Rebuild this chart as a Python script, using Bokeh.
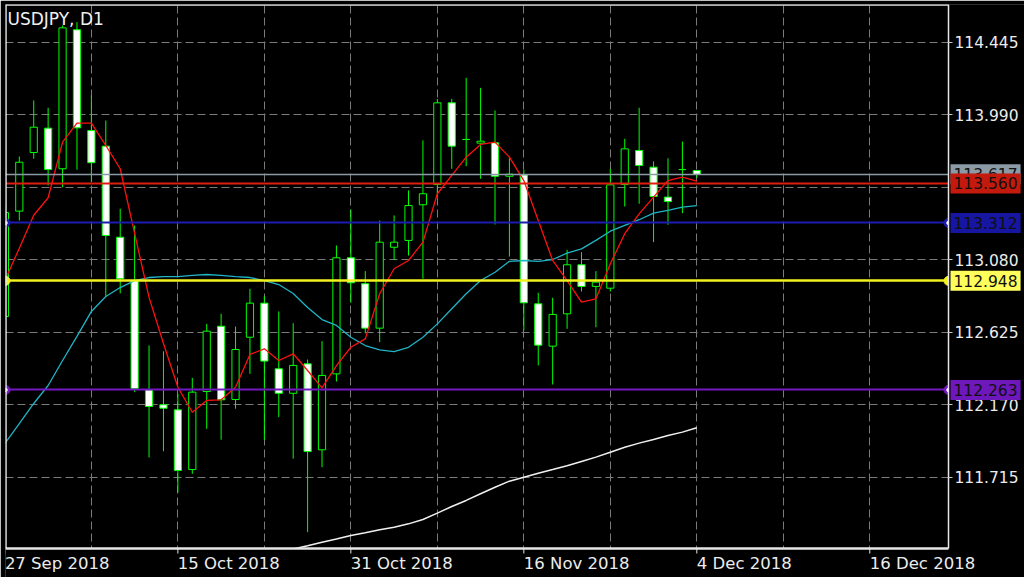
from bokeh.plotting import figure
from bokeh.models import Range1d, FixedTicker, Label, NumeralTickFormatter, LinearAxis
from bokeh.embed import file_html
from bokeh.resources import INLINE

# ---------------- data ----------------
symbol_title = "USDJPY, D1"

date_tick_idx = [0, 12, 24, 36, 48, 60]
date_tick_labels = ["27 Sep 2018", "15 Oct 2018", "31 Oct 2018",
                    "16 Nov 2018", "4 Dec 2018", "16 Dec 2018"]

price_ticks = [114.445, 113.990, 113.080, 112.625, 112.170, 111.715]
price_grid = [114.445, 113.990, 113.535, 113.080, 112.625, 112.170, 111.715]

open_ = [112.724, 113.386, 113.754, 113.907, 113.652, 114.525, 113.892, 113.794, 113.222, 112.950,
         112.264, 112.170, 112.138, 111.763, 112.253, 112.663, 112.203, 112.594, 112.808, 112.396,
         112.242, 112.427, 111.887, 112.364, 113.093, 112.930, 112.651, 113.159, 113.202, 113.426,
         113.553, 114.066, 113.836, 113.813, 113.815, 113.605, 113.614, 112.804, 112.538, 112.741,
         113.049, 112.913, 112.902, 113.553, 113.767, 113.662, 113.474, 113.647, 113.641]
high = [113.421, 113.729, 114.081, 114.035, 114.552, 114.573, 114.112, 113.955, 113.401, 113.296,
        112.542, 112.506, 112.239, 112.339, 112.678, 112.741, 112.661, 112.898, 112.852, 112.756,
        112.682, 112.454, 112.569, 113.170, 113.396, 113.009, 113.327, 113.359, 113.516, 113.830,
        114.091, 114.091, 114.223, 114.160, 114.018, 113.725, 113.646, 112.873, 112.842, 113.143,
        113.128, 113.009, 113.652, 113.840, 114.035, 113.698, 113.718, 113.823, 113.641]
low = [112.699, 113.327, 113.715, 113.547, 113.536, 113.646, 113.568, 112.850, 112.869, 112.249,
       111.839, 111.878, 111.619, 111.736, 112.019, 111.950, 112.145, 112.364, 111.950, 112.092,
       111.831, 111.370, 111.778, 112.316, 112.810, 112.618, 112.563, 113.080, 113.107, 112.961,
       113.474, 113.652, 113.668, 113.589, 113.302, 113.101, 112.636, 112.417, 112.297, 112.647,
       112.881, 112.657, 112.881, 113.415, 113.432, 113.191, 113.300, 113.373, 113.595]
close = [113.377, 113.693, 113.913, 113.647, 114.537, 113.909, 113.690, 113.233, 112.961, 112.270,
         112.159, 112.148, 111.757, 112.249, 112.632, 112.201, 112.517, 112.808, 112.444, 112.242,
         112.417, 111.876, 112.354, 113.093, 112.936, 112.651, 113.191, 113.191, 113.421, 113.495,
         114.066, 113.794, 113.836, 113.825, 113.605, 113.618, 112.810, 112.544, 112.737, 113.049,
         112.913, 112.940, 113.551, 113.777, 113.673, 113.478, 113.446, 113.647, 113.617]

ma_fast = [112.950, 113.153, 113.360, 113.470, 113.819, 113.938, 113.938, 113.798, 113.652, 113.246,
           112.844, 112.555, 112.280, 112.123, 112.197, 112.201, 112.280, 112.486, 112.521, 112.448,
           112.490, 112.385, 112.276, 112.416, 112.531, 112.584, 112.867, 113.024, 113.076, 113.191,
           113.495, 113.610, 113.725, 113.805, 113.819, 113.725, 113.578, 113.327, 113.076, 112.950,
           112.814, 112.835, 113.055, 113.244, 113.369, 113.474, 113.578, 113.599, 113.574]
ma_mid = [111.927, 112.052, 112.178, 112.291, 112.448, 112.599, 112.756, 112.850, 112.906, 112.950,
          112.969, 112.975, 112.975, 112.982, 112.988, 112.982, 112.975, 112.969, 112.950, 112.925,
          112.869, 112.781, 112.705, 112.668, 112.594, 112.542, 112.515, 112.504, 112.531, 112.594,
          112.678, 112.773, 112.867, 112.950, 113.002, 113.071, 113.076, 113.071, 113.082, 113.122,
          113.149, 113.202, 113.260, 113.296, 113.332, 113.373, 113.390, 113.411, 113.421]
ma_slow_start = 19
ma_slow = [111.242, 111.264, 111.284, 111.307, 111.327, 111.349, 111.366, 111.385, 111.401, 111.422,
           111.449, 111.489, 111.531, 111.569, 111.611, 111.652, 111.690, 111.715, 111.740, 111.763,
           111.787, 111.814, 111.841, 111.872, 111.903, 111.929, 111.952, 111.977, 111.998, 112.025]

level_prices = [113.617, 113.560, 113.312, 112.948, 112.263]
level_line_colors = ["#8c9aa8", "#e01e10", "#1c1cb0", "#f2f21e", "#7418c4"]
level_line_widths = [1.5, 2, 2, 2.5, 2]
level_tag_colors = ["#8c9aa8", "#c41a0e", "#1616a2", "#ffff5c", "#6e18bc"]
level_markers = [False, False, True, True, True]

# ---------------- geometry ----------------
W, H = 1024, 577
LEFT, TOP = 5, 4
CHART_PX, CHART_PY = 943, 544          # size of the price chart (pixels)
BAR_PX = 14.415                        # pixels per daily bar
X0 = 0.042
X_EDGE = X0 + CHART_PX / BAR_PX        # right edge of the price chart
X1 = X0 + (W - LEFT) / BAR_PX          # frame extends under the price scale
Y0, Y1 = 111.2672, 114.6836            # bottom / top of the price chart
PRICE_PX = (Y1 - Y0) / CHART_PY
Y_LOW = Y1 - (H - TOP) * PRICE_PX      # frame extends under the date scale

p = figure(width=W, height=H, output_backend="svg", toolbar_location=None,
           x_range=Range1d(X0, X1), y_range=Range1d(Y_LOW, Y1),
           x_axis_location=None, y_axis_location=None,
           min_border_left=LEFT, min_border_top=TOP, min_border_right=0, min_border_bottom=0,
           background_fill_color="black", border_fill_color="black",
           outline_line_color=None)

# grid
p.xgrid.ticker = FixedTicker(ticks=list(range(6, 61, 6)))
p.ygrid.ticker = FixedTicker(ticks=price_grid)
for g in (p.xgrid, p.ygrid):
    g.grid_line_color = "#7a7a7a"
    g.grid_line_dash = "8 4"
    g.grid_line_width = 1

# candles
idx = list(range(len(open_)))
p.segment(x0=idx, y0=low, x1=idx, y1=high, line_color="#00ff00", line_width=1)
bull = [i for i in idx if close[i] >= open_[i]]
bear = [i for i in idx if close[i] < open_[i]]
p.vbar(x=bull, width=0.5, top=[close[i] for i in bull], bottom=[open_[i] for i in bull],
       fill_color="black", line_color="#00ff00", line_width=1)
p.vbar(x=bear, width=0.5, top=[open_[i] for i in bear], bottom=[close[i] for i in bear],
       fill_color="white", line_color="#00ff00", line_width=1)

# moving averages
p.line(idx, ma_mid, line_color="#1fb4c6", line_width=1.3)
p.line(list(range(ma_slow_start, ma_slow_start + len(ma_slow))), ma_slow,
       line_color="#f0f0f0", line_width=1.5)
p.line(idx, ma_fast, line_color="#ff1010", line_width=1.3)

# horizontal levels
for y, c, w in zip(level_prices, level_line_colors, level_line_widths):
    p.hspan(y=[y], line_color=c, line_width=w)
for y, c, m in zip(level_prices, level_line_colors, level_markers):
    if m:
        xs = [X0, X_EDGE]
        p.scatter(x=xs, y=[y, y], size=9, marker="circle", fill_color=c, line_color=c)
        if c != "#f2f21e":
            p.scatter(x=xs, y=[y, y], size=3.5, marker="circle", fill_color="white", line_color="white")

# price-scale and date-scale areas, chart border, date tick marks
p.quad(left=[X_EDGE, X0], right=[X1, X1], bottom=[Y_LOW, Y_LOW], top=[Y1, Y0],
       fill_color="black", line_color=None)
p.segment(x0=[X0, X0, X0], y0=[Y0, Y1, Y0], x1=[X_EDGE, X_EDGE, X0], y1=[Y0, Y1, Y1],
          line_color="#e6e6e6", line_width=2.5)
p.segment(x0=date_tick_idx, y0=[Y0] * len(date_tick_idx), x1=date_tick_idx,
          y1=[Y0 - 5 * PRICE_PX] * len(date_tick_idx), line_color="#e6e6e6", line_width=1)

# date axis: labels left-aligned at their tick (ticks shifted by half the text width)
ADV = {" ": 0.318, "S": 0.635, "e": 0.615, "p": 0.635, "O": 0.787, "c": 0.550,
       "t": 0.392, "N": 0.748, "o": 0.612, "v": 0.592, "D": 0.770}
XL_FONT = 16.5
lab_pos = []
for t, s in zip(date_tick_idx, date_tick_labels):
    w = sum(ADV.get(ch, 0.636) for ch in s) * XL_FONT
    lab_pos.append(round(t + (w / 2) / BAR_PX, 3))
xa = LinearAxis(fixed_location=Y0, ticker=FixedTicker(ticks=lab_pos),
                major_label_overrides={pos: s for pos, s in zip(lab_pos, date_tick_labels)},
                major_label_text_font="DejaVu Sans", major_label_text_font_size=f"{XL_FONT}px",
                major_label_text_color="#ececec", major_label_standoff=5,
                major_tick_out=0, major_tick_in=0, minor_tick_out=0, minor_tick_in=0,
                axis_line_color=None, major_tick_line_color=None)
p.add_layout(xa, "below")

# price axis, drawn at the chart's right edge
ya = LinearAxis(fixed_location=X_EDGE, bounds=(Y0, Y1), ticker=FixedTicker(ticks=price_ticks),
                formatter=NumeralTickFormatter(format="0.000"),
                major_label_text_font="DejaVu Sans", major_label_text_font_size="15.5px",
                major_label_text_color="#ececec", major_label_standoff=2,
                major_tick_out=4, major_tick_in=0, minor_tick_out=0, minor_tick_in=0,
                major_tick_line_color="#c8c8c8", axis_line_color="#e6e6e6", axis_line_width=1.5)
p.add_layout(ya, "right")

# price tags
for y, c in zip(level_prices, level_tag_colors):
    p.add_layout(Label(x=X_EDGE, y=y, x_offset=2, text=f"{y:.3f}", text_baseline="middle",
                       text_align="left", text_font="DejaVu Sans", text_font_size="15.5px",
                       text_color="#101010", background_fill_color=c, padding=(3, 4)))

# title
p.add_layout(Label(x=X0, x_offset=2, y=Y1, y_offset=-4, text=symbol_title, text_baseline="top",
                   text_font="DejaVu Sans", text_font_size="17px", text_color="#f0f0f0"))

open("out.html", "w").write(file_html(p, INLINE))
